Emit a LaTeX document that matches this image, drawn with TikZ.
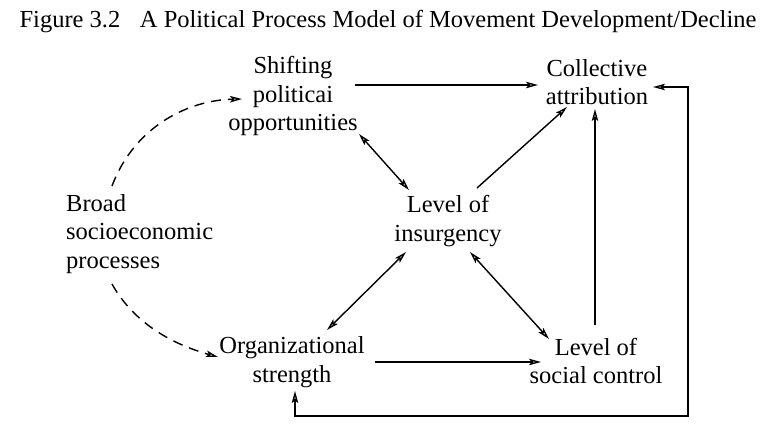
\documentclass[tikz,border=0pt]{standalone}
\usepackage{fontspec}
\setmainfont{Liberation Serif}
\usetikzlibrary{arrows.meta}
\begin{document}
\begin{tikzpicture}[x=1pt,y=-1pt,
  lbl/.style={font=\fontsize{24.5}{28.5}\selectfont, align=center, inner sep=0pt},
  tip/.tip={Stealth[open,length=12pt,width=6.5pt,inset=2.5pt]},
  conn/.style={line width=1.4pt, -tip},
  both/.style={line width=1.4pt, tip-tip},
  dsh/.style={line width=1.4pt, dash pattern=on 10pt off 7pt, -tip}]
\useasboundingbox (0,0) rectangle (772,432);
\node[lbl] (title) at (388,22) {Figure 3.2\hspace{0.8em}A Political Process Model of Movement Development/Decline};
\node[lbl] (shift) at (293,96) {Shifting\\politicai\\opportunities};
\node[lbl] (coll) at (597,82) {Collective\\attribution};
\node[lbl, align=left, anchor=west] (broad) at (66,234) {Broad\\socioeconomic\\processes};
\node[lbl] (ins) at (448,221) {Level of\\insurgency};
\node[lbl] (org) at (292,362) {Organizational\\strength};
\node[lbl] (soc) at (596,361) {Level of\\social control};
% endpoints
\coordinate (sA) at (355,85);
\coordinate (cA) at (538,85);
\coordinate (cR) at (653,87);
\coordinate (r1) at (688,87);
\coordinate (r2) at (688,416);
\coordinate (r3) at (295,416);
\coordinate (oB) at (295,391);
\coordinate (cB) at (595,109);
\coordinate (sT) at (595,325);
\coordinate (iNE) at (477,188);
\coordinate (cSW) at (567,107);
\coordinate (iSE) at (470,252);
\coordinate (sNW) at (549,339);
\coordinate (sSE) at (359,134);
\coordinate (iNW) at (409,190);
\coordinate (iSW) at (406,252);
\coordinate (oNE) at (327,330);
\coordinate (oE) at (375,362);
\coordinate (sW) at (541,362);
\coordinate (bT) at (112,186);
\coordinate (sL) at (242,99);
\coordinate (bB) at (112,284);
\coordinate (oL) at (218,357);
\draw[conn] (sA) -- (cA);
\draw[both] (cR) -- (r1) -- (r2) -- (r3) -- (oB);
\draw[conn] (sT) -- (cB);
\draw[conn] (iNE) -- (cSW);
\draw[both] (iSE) -- (sNW);
\draw[both] (sSE) -- (iNW);
\draw[both] (iSW) -- (oNE);
\draw[conn] (oE) -- (sW);
\draw[dsh] (bT) .. controls (135,125) and (190,100) .. (sL);
\draw[dsh] (bB) .. controls (135,325) and (175,345) .. (oL);
\end{tikzpicture}
\end{document}
